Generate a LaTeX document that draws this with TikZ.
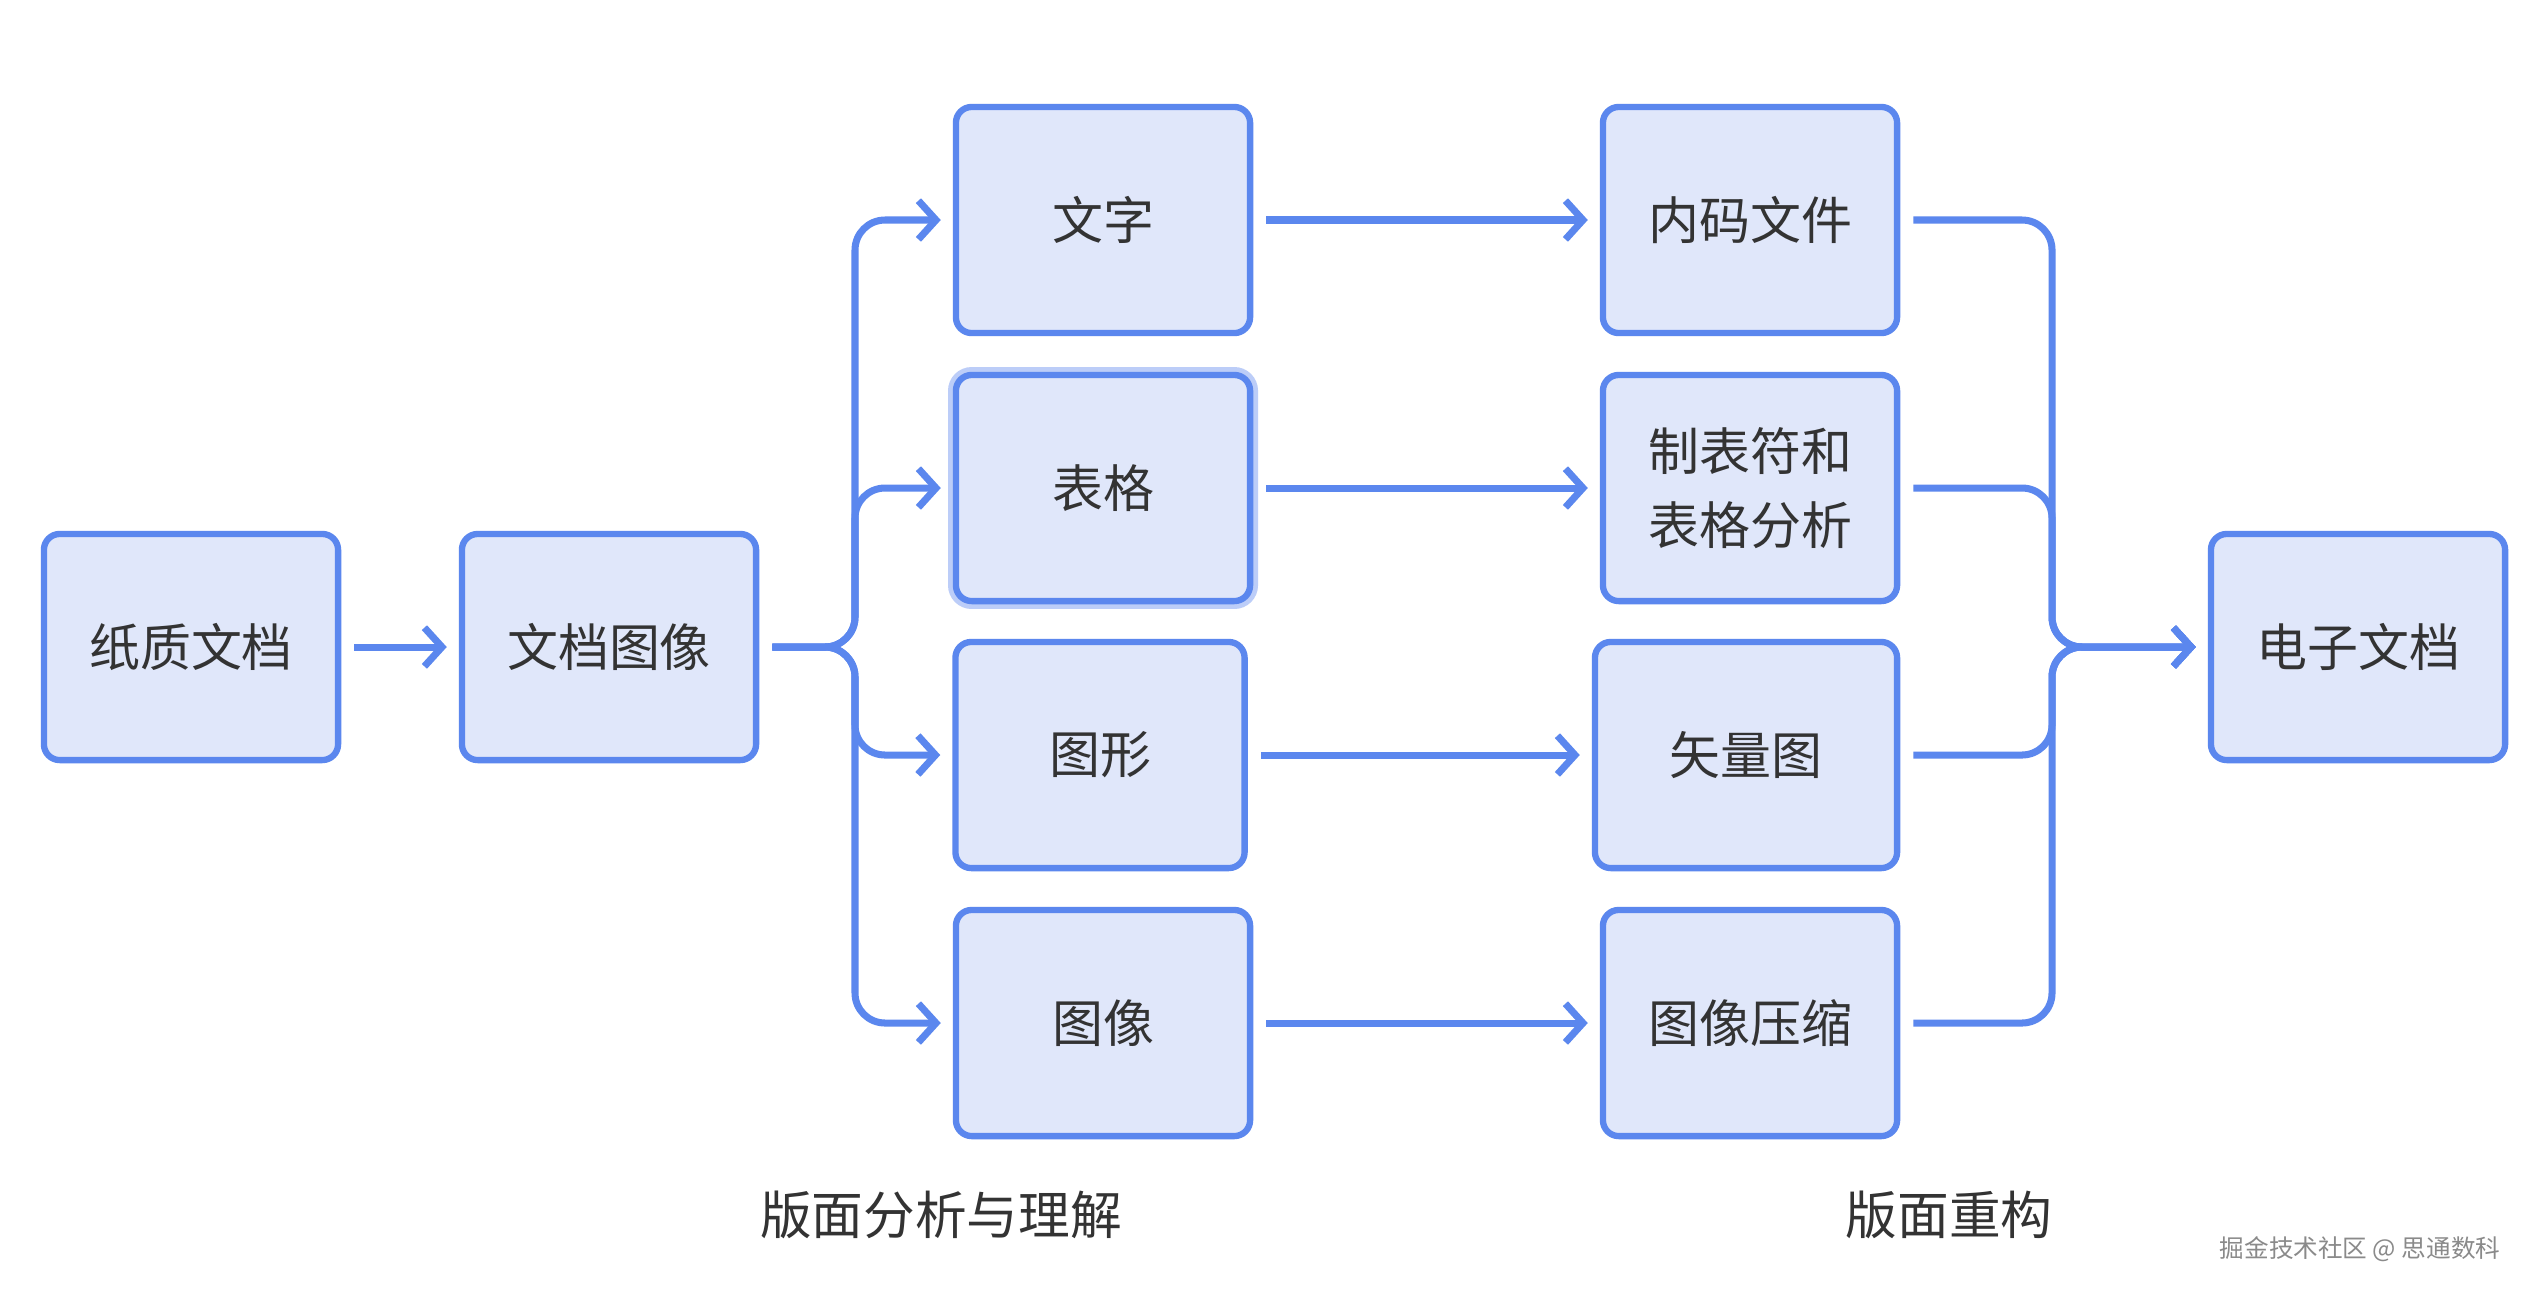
\documentclass[tikz,border=0pt]{standalone}
\usepackage{fontspec}
\setmainfont{Noto Sans CJK SC}
\usetikzlibrary{arrows.meta}
\definecolor{bord}{HTML}{5B87EE}
\definecolor{boxfill}{HTML}{E0E7FA}
\definecolor{txt}{HTML}{333333}
\definecolor{glow}{HTML}{BCCDF8}
\definecolor{wm}{HTML}{8A8A8A}
\begin{document}
\begin{tikzpicture}[x=0.01cm,y=-0.01cm,
  box/.style={draw=bord, fill=boxfill, line width=1.8pt, rounded corners=4.5pt,
    minimum width=2.94cm, minimum height=2.26cm, text=txt,
    font=\fontsize{14.5}{21}\selectfont, align=center, inner sep=0pt},
  glowbox/.style={box, preaction={draw=glow, line width=4.5pt}},
  conn/.style={draw=bord, line width=2pt, -{Straight Barb[length=5pt,width=11pt]},
    shorten <=0.13cm, shorten >=0.12cm},
  fork/.style={conn, rounded corners=0.3cm},
  lbl/.style={text=txt, font=\fontsize{14.7}{17}\selectfont},
  wmark/.style={text=wm, font=\fontsize{7}{8}\selectfont}]
\useasboundingbox[fill=white] (0,0) rectangle (2534,1296);

\node[box] (p) at (191,647) {纸质文档};
\node[box] (d) at (609,647) {文档图像};

\node[box] (t1) at (1103,220) {文字};
\node[glowbox] (t2) at (1103,488) {表格};
\node[box, minimum width=2.89cm] (t3) at (1100,755) {图形};
\node[box] (t4) at (1103,1023) {图像};

\node[box] (r1) at (1750,220) {内码文件};
\node[box] (r2) at (1750,488) {制表符和\\表格分析};
\node[box, minimum width=3.02cm] (r3) at (1746,755) {矢量图};
\node[box] (r4) at (1750,1023) {图像压缩};

\node[box] (e) at (2358,647) {电子文档};

\coordinate (fl) at (855,647);
\coordinate (fr) at (2052,647);

\draw[conn] (p) -- (d);

\draw[fork] (d.east) -| (fl |- t1) -- (t1.west);
\draw[fork] (d.east) -| (fl |- t2) -- (t2.west);
\draw[fork] (d.east) -| (fl |- t3) -- (t3.west);
\draw[fork] (d.east) -| (fl |- t4) -- (t4.west);

\draw[conn] (t1) -- (r1);
\draw[conn] (t2) -- (r2);
\draw[conn] (t3) -- (r3);
\draw[conn] (t4) -- (r4);

\draw[fork] (r1.east) -| (fr) -- (e.west);
\draw[fork] (r2.east) -| (fr) -- (e.west);
\draw[fork] (r3.east) -| (fr) -- (e.west);
\draw[fork] (r4.east) -| (fr) -- (e.west);

\node[lbl] (l1) at (941,1215) {版面分析与理解};
\node[lbl] (l2) at (1949,1215) {版面重构};
\node[wmark] (w) at (2360,1249) {掘金技术社区 @ 思通数科};
\end{tikzpicture}
\end{document}
